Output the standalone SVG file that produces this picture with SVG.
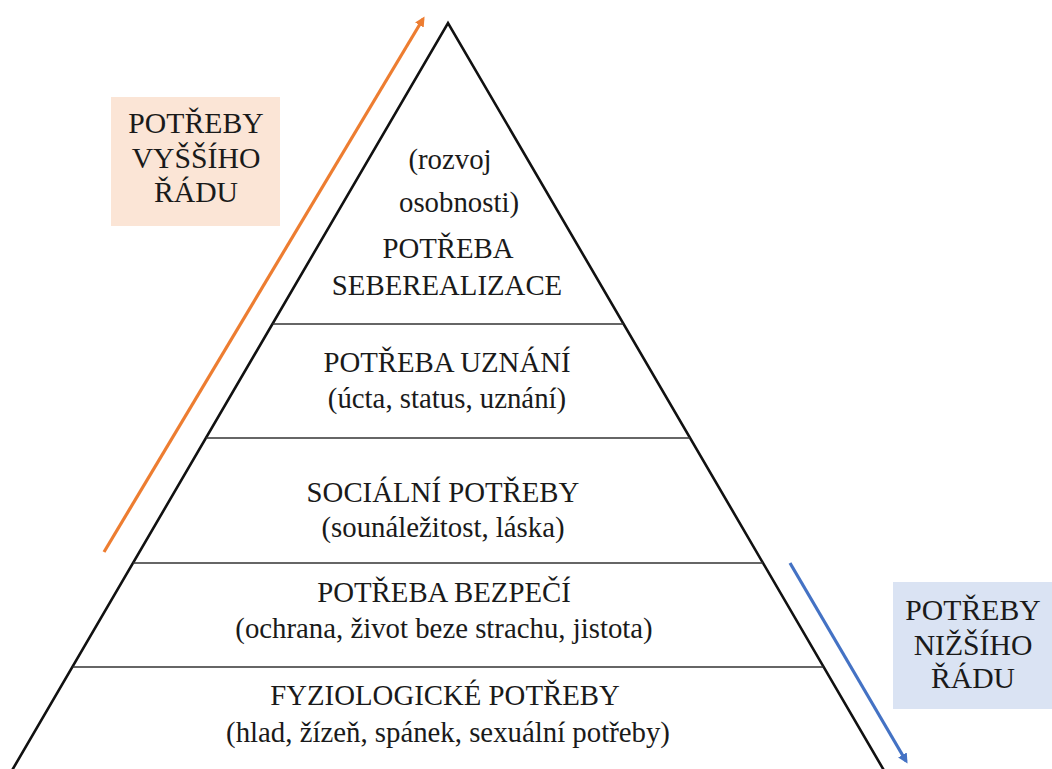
<svg xmlns="http://www.w3.org/2000/svg" width="1052" height="769" viewBox="0 0 1052 769">
<defs>
<style>
.t{font-family:"Liberation Serif","Times New Roman",serif;font-size:28.8px;fill:#1a1a1a;text-anchor:middle}
.b{font-size:29.7px}
.edge{fill:none;stroke:#111;stroke-width:2.6;stroke-linejoin:miter}
.sep{stroke:#333;stroke-width:1.6}
</style>
<marker id="ao" markerWidth="10" markerHeight="10" refX="7" refY="5" orient="auto" markerUnits="userSpaceOnUse" viewBox="0 0 10 10">
<path d="M0,0 L10,5 L0,10 z" fill="#ED7D31"/>
</marker>
<marker id="ab" markerWidth="10" markerHeight="10" refX="7" refY="5" orient="auto" markerUnits="userSpaceOnUse" viewBox="0 0 10 10">
<path d="M0,0 L10,5 L0,10 z" fill="#4472C4"/>
</marker>
</defs>
<rect width="1052" height="769" fill="#fff"/>
<g id="box-higher">
<rect x="111" y="97" width="169" height="129" fill="#FBE5D6"/>
<text class="t b" x="196" y="133">POTŘEBY</text>
<text class="t b" x="196" y="168">VYŠŠÍHO</text>
<text class="t b" x="196" y="202">ŘÁDU</text>
</g>
<g id="box-lower">
<rect x="893" y="582" width="159" height="127" fill="#DAE3F3"/>
<text class="t b" x="973" y="620">POTŘEBY</text>
<text class="t b" x="973" y="655">NIŽŠÍHO</text>
<text class="t b" x="973" y="688">ŘÁDU</text>
</g>
<g id="pyramid">
<polyline class="edge" points="7,779 448,23 889,779"/>
</g>
<g id="level5">
<text class="t" x="450" y="169">(rozvoj</text>
<text class="t" x="459" y="212">osobnosti)</text>
<text class="t" x="448" y="258">POTŘEBA</text>
<text class="t" x="447" y="295">SEBEREALIZACE</text>
</g>
<g id="level4">
<line class="sep" x1="272.5" y1="324" x2="623.5" y2="324"/>
<text class="t" x="447" y="372">POTŘEBA UZNÁNÍ</text>
<text class="t" x="447" y="408">(úcta, status, uznání)</text>
</g>
<g id="level3">
<line class="sep" x1="206" y1="438" x2="690" y2="438"/>
<text class="t" x="443" y="502">SOCIÁLNÍ POTŘEBY</text>
<text class="t" x="443" y="537">(sounáležitost, láska)</text>
</g>
<g id="level2">
<line class="sep" x1="133" y1="563" x2="763" y2="563"/>
<text class="t" x="444" y="602">POTŘEBA BEZPEČÍ</text>
<text class="t" x="444" y="638">(ochrana, život beze strachu, jistota)</text>
</g>
<g id="level1">
<line class="sep" x1="72.5" y1="667" x2="823.5" y2="667"/>
<text class="t" x="445" y="705">FYZIOLOGICKÉ POTŘEBY</text>
<text class="t" x="448" y="742">(hlad, žízeň, spánek, sexuální potřeby)</text>
</g>
<g id="connectors">
<line x1="104" y1="552" x2="423" y2="19" stroke="#ED7D31" stroke-width="3.2" marker-end="url(#ao)"/>
<line x1="790" y1="563" x2="906" y2="761" stroke="#4472C4" stroke-width="3.2" marker-end="url(#ab)"/>
</g>
</svg>
